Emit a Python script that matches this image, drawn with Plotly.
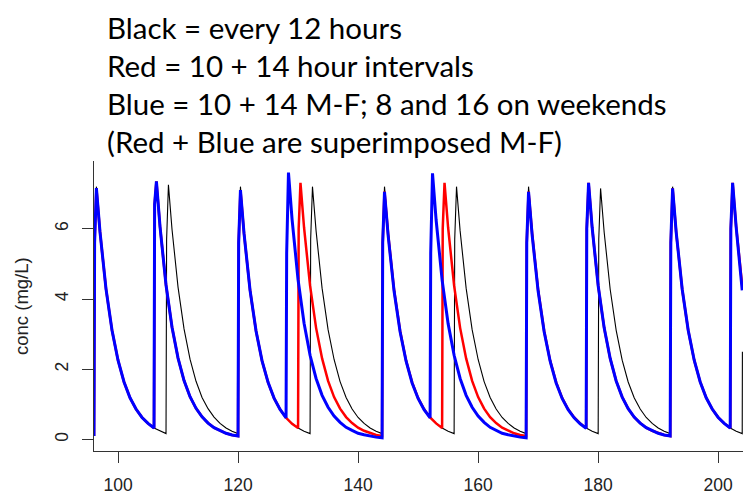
import plotly.graph_objects as go

# concentration-time profiles (hours, mg/L)
black_time = [
    96, 96.1, 96.4, 97, 98, 99, 100, 101, 102, 103, 104, 105, 106, 107,
    108, 108.1, 108.4, 109, 110, 111, 112, 113, 114, 115, 116, 117, 118, 119,
    120, 120.1, 120.4, 121, 122, 123, 124, 125, 126, 127, 128, 129, 130, 131,
    132, 132.1, 132.4, 133, 134, 135, 136, 137, 138, 139, 140, 141, 142, 143,
    144, 144.1, 144.4, 145, 146, 147, 148, 149, 150, 151, 152, 153, 154, 155,
    156, 156.1, 156.4, 157, 158, 159, 160, 161, 162, 163, 164, 165, 166, 167,
    168, 168.1, 168.4, 169, 170, 171, 172, 173, 174, 175, 176, 177, 178, 179,
    180, 180.1, 180.4, 181, 182, 183, 184, 185, 186, 187, 188, 189, 190, 191,
    192, 192.1, 192.4, 193, 194, 195, 196, 197, 198, 199, 200, 201, 202, 203,
    204, 204.03,
]
black_conc = [
    0.17, 5.7, 7.2, 5.94, 4.31, 3.13, 2.28, 1.65, 1.20, 0.87, 0.63, 0.46, 0.33, 0.24,
    0.17, 5.7, 7.25, 5.98, 4.34, 3.15, 2.29, 1.66, 1.20, 0.88, 0.64, 0.46, 0.33, 0.24,
    0.17, 5.7, 7.2, 5.94, 4.31, 3.13, 2.28, 1.65, 1.20, 0.87, 0.63, 0.46, 0.33, 0.24,
    0.17, 5.7, 7.2, 5.94, 4.31, 3.13, 2.28, 1.65, 1.20, 0.87, 0.63, 0.46, 0.33, 0.24,
    0.17, 5.7, 7.2, 5.94, 4.31, 3.13, 2.28, 1.65, 1.20, 0.87, 0.63, 0.46, 0.33, 0.24,
    0.17, 5.7, 7.2, 5.94, 4.31, 3.13, 2.28, 1.65, 1.20, 0.87, 0.63, 0.46, 0.33, 0.24,
    0.17, 5.7, 7.2, 5.94, 4.31, 3.13, 2.28, 1.65, 1.20, 0.87, 0.63, 0.46, 0.33, 0.24,
    0.17, 5.7, 7.15, 5.90, 4.28, 3.11, 2.26, 1.64, 1.19, 0.87, 0.63, 0.46, 0.33, 0.24,
    0.17, 5.7, 7.2, 5.94, 4.31, 3.13, 2.28, 1.65, 1.20, 0.87, 0.63, 0.46, 0.33, 0.24,
    0.17, 2.5,
]

red_time = [
    96, 96.1, 96.4, 97, 98, 99, 100, 101, 102, 103, 104, 105,
    106, 106.1, 106.4, 107, 108, 109, 110, 111, 112, 113, 114, 115, 116, 117, 118, 119,
    120, 120.1, 120.4, 121, 122, 123, 124, 125, 126, 127, 128, 129,
    130, 130.1, 130.4, 131, 132, 133, 134, 135, 136, 137, 138, 139, 140, 141, 142, 143,
    144, 144.1, 144.4, 145, 146, 147, 148, 149, 150, 151, 152, 153,
    154, 154.1, 154.4, 155, 156, 157, 158, 159, 160, 161, 162, 163, 164, 165, 166, 167,
    168, 168.1, 168.4, 169, 170, 171, 172, 173, 174, 175, 176, 177,
    178, 178.1, 178.4, 179, 180, 181, 182, 183, 184, 185, 186, 187, 188, 189, 190, 191,
    192, 192.1, 192.4, 193, 194, 195, 196, 197, 198, 199, 200, 201,
    202, 202.1, 202.4, 203, 204,
]
red_conc = [
    0.10, 5.6, 7.16, 5.91, 4.29, 3.11, 2.26, 1.64, 1.19, 0.87, 0.63, 0.46,
    0.33, 6.7, 7.35, 6.06, 4.40, 3.20, 2.32, 1.68, 1.22, 0.89, 0.65, 0.47, 0.34, 0.25, 0.18, 0.13,
    0.10, 5.6, 7.1, 5.86, 4.25, 3.09, 2.24, 1.63, 1.18, 0.86, 0.62, 0.45,
    0.33, 6.0, 7.31, 6.03, 4.38, 3.18, 2.31, 1.67, 1.21, 0.88, 0.64, 0.47, 0.34, 0.25, 0.18, 0.13,
    0.10, 5.6, 7.06, 5.86, 4.25, 3.09, 2.24, 1.63, 1.18, 0.86, 0.63, 0.46,
    0.33, 6.0, 7.31, 6.03, 4.38, 3.18, 2.31, 1.67, 1.21, 0.88, 0.64, 0.47, 0.34, 0.25, 0.18, 0.13,
    0.10, 5.6, 7.06, 5.86, 4.25, 3.09, 2.24, 1.63, 1.18, 0.86, 0.63, 0.46,
    0.33, 6.0, 7.31, 6.03, 4.38, 3.18, 2.31, 1.67, 1.21, 0.88, 0.64, 0.47, 0.34, 0.25, 0.18, 0.13,
    0.10, 5.6, 7.15, 5.90, 4.28, 3.11, 2.26, 1.64, 1.19, 0.87, 0.63, 0.46,
    0.33, 6.0, 7.31, 6.03, 4.38,
]

blue_time = [
    96, 96.1, 96.4, 97, 98, 99, 100, 101, 102, 103, 104, 105,
    106, 106.1, 106.4, 107, 108, 109, 110, 111, 112, 113, 114, 115, 116, 117, 118, 119,
    120, 120.1, 120.4, 121, 122, 123, 124, 125, 126, 127,
    128, 128.1, 128.4, 129, 130, 131, 132, 133, 134, 135, 136, 137, 138, 139, 140, 141, 142, 143,
    144, 144.1, 144.4, 145, 146, 147, 148, 149, 150, 151,
    152, 152.1, 152.4, 153, 154, 155, 156, 157, 158, 159, 160, 161, 162, 163, 164, 165, 166, 167,
    168, 168.1, 168.4, 169, 170, 171, 172, 173, 174, 175, 176, 177,
    178, 178.1, 178.4, 179, 180, 181, 182, 183, 184, 185, 186, 187, 188, 189, 190, 191,
    192, 192.1, 192.4, 193, 194, 195, 196, 197, 198, 199, 200, 201,
    202, 202.1, 202.4, 203, 204,
]
blue_conc = [
    0.10, 5.6, 7.16, 5.91, 4.29, 3.11, 2.26, 1.64, 1.19, 0.87, 0.63, 0.46,
    0.33, 6.7, 7.35, 6.06, 4.40, 3.20, 2.32, 1.68, 1.22, 0.89, 0.65, 0.47, 0.34, 0.25, 0.18, 0.13,
    0.10, 5.6, 7.1, 5.86, 4.25, 3.09, 2.24, 1.63, 1.18, 0.86,
    0.62, 5.3, 7.6, 6.27, 4.55, 3.31, 2.40, 1.74, 1.26, 0.92, 0.67, 0.49, 0.35, 0.26, 0.18, 0.14, 0.10, 0.07,
    0.05, 5.6, 7.05, 5.82, 4.22, 3.07, 2.23, 1.61, 1.17, 0.85,
    0.62, 5.3, 7.58, 6.25, 4.54, 3.30, 2.40, 1.74, 1.26, 0.92, 0.67, 0.49, 0.35, 0.26, 0.18, 0.14, 0.10, 0.07,
    0.05, 5.6, 7.05, 5.82, 4.22, 3.07, 2.23, 1.61, 1.17, 0.85, 0.62, 0.45,
    0.32, 6.0, 7.31, 6.03, 4.38, 3.18, 2.31, 1.67, 1.21, 0.88, 0.64, 0.47, 0.34, 0.25, 0.18, 0.13,
    0.10, 5.6, 7.15, 5.90, 4.28, 3.11, 2.26, 1.64, 1.19, 0.87, 0.63, 0.46,
    0.33, 6.0, 7.31, 6.03, 4.25,
]

x_ticks = [100, 120, 140, 160, 180, 200]
y_ticks = [0, 2, 4, 6]

legend_lines = [
    "Black = every 12 hours",
    "Red = 10 + 14 hour intervals",
    "Blue = 10 + 14 M-F; 8 and 16 on weekends",
    "(Red + Blue are superimposed M-F)",
]

W, H = 755, 497
# the page body adds an 8px offset, so positions below are in figure pixels
L, R, T, B = 86, 20, 153, 54
plot_h = H - T - B
plot_w = W - L - R


def py(px):
    # figure pixel row -> paper y
    return (H - B - px) / plot_h


def px_x(px):
    return (px - L) / plot_w


fig = go.Figure()
fig.add_trace(go.Scatter(x=black_time, y=black_conc, mode="lines",
                         line=dict(color="#000000", width=1.1), showlegend=False))
fig.add_trace(go.Scatter(x=red_time, y=red_conc, mode="lines",
                         line=dict(color="#ff0000", width=2.5), showlegend=False))
fig.add_trace(go.Scatter(x=blue_time, y=blue_conc, mode="lines",
                         line=dict(color="#0000ff", width=3), showlegend=False))

annotations = []
line_mid = [19, 57, 95, 133]
for text, ym in zip(legend_lines, line_mid):
    annotations.append(dict(
        x=px_x(97), y=py(ym), xref="paper", yref="paper",
        xanchor="left", yanchor="middle", showarrow=False, text=text,
        font=dict(family="Lato", size=29.5, color="#000000"),
    ))
annotations.append(dict(
    x=px_x(13), y=0.5, xref="paper", yref="paper", textangle=-90,
    xanchor="center", yanchor="middle", showarrow=False, text="conc (mg/L)",
    font=dict(family="Liberation Sans", size=18.5, color="#222222"),
))

axis_font = dict(family="Liberation Sans", size=17.5, color="#222222")
fig.update_layout(
    width=W, height=H,
    margin=dict(l=L, r=R, t=T, b=B, autoexpand=False),
    paper_bgcolor="white", plot_bgcolor="white",
    annotations=annotations,
    xaxis=dict(
        range=[96, 204.13], tickvals=x_ticks, ticks="outside", ticklen=11,
        tickcolor="#333333", showline=True, linecolor="#333333", linewidth=1,
        showgrid=False, zeroline=False, tickfont=axis_font, ticklabelstandoff=7,
    ),
    yaxis=dict(
        range=[-0.325, 7.93], tickvals=y_ticks, ticks="outside", ticklen=11,
        tickcolor="#333333", showline=True, linecolor="#333333", linewidth=1,
        showgrid=False, zeroline=False, tickfont=axis_font, tickangle=-90,
        ticklabelstandoff=7,
    ),
)

fig.write_html("out.html")
